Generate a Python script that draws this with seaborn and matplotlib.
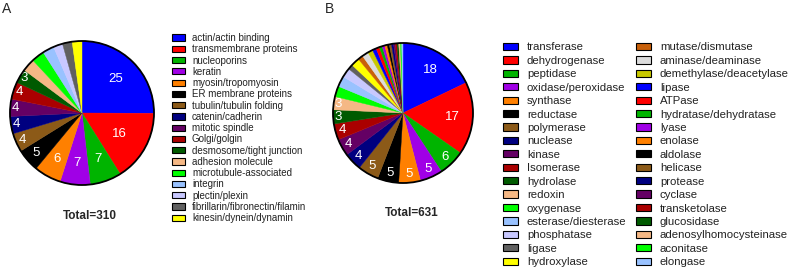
import numpy as np
import matplotlib
matplotlib.use('Agg')
import matplotlib.pyplot as plt
from matplotlib.patches import Patch, Circle
import seaborn as sns

# panel A: structural proteins, % of all hits
cats_a = ['actin/actin binding', 'transmembrane proteins', 'nucleoporins', 'keratin',
          'myosin/tropomyosin', 'ER membrane proteins', 'tubulin/tubulin folding',
          'catenin/cadherin', 'mitotic spindle', 'Golgi/golgin', 'desmosome/tight junction',
          'adhesion molecule', 'microtubule-associated', 'integrin', 'plectin/plexin',
          'fibrillarin/fibronectin/filamin', 'kinesin/dynein/dynamin']
pct_a = [25.2, 16.1, 7.1, 6.8, 6.1, 5.2, 4.2, 3.9, 3.9, 3.9, 3.2,
         2.9, 2.9, 2.6, 2.1, 2.2, 2.2]
colors_a = ['#0000ff', '#ff0000', '#00b400', '#a000e6', '#ff8000', '#000000', '#8c5a18',
            '#000080', '#640064', '#aa0000', '#005a00', '#f5b885', '#00ff00', '#99c2ff',
            '#c8c8ff', '#606060', '#ffff00']
total_a = 310

# panel B: enzymes, % of all hits
cats_b = ['transferase', 'dehydrogenase', 'peptidase', 'oxidase/peroxidase', 'synthase',
          'reductase', 'polymerase', 'nuclease', 'kinase', 'Isomerase', 'hydrolase',
          'redoxin', 'oxygenase', 'esterase/diesterase', 'phosphatase', 'ligase',
          'hydroxylase', 'mutase/dismutase', 'aminase/deaminase', 'demethylase/deacetylase',
          'lipase', 'ATPase', 'hydratase/dehydratase', 'lyase', 'enolase', 'aldolase',
          'helicase', 'protease', 'cyclase', 'transketolase', 'glucosidase',
          'adenosylhomocysteinase', 'aconitase', 'elongase']
pct_b = [18.2, 17.1, 6.2, 5.3, 5.1, 5.0, 4.9, 4.2, 4.0, 3.8, 3.3, 3.1,
         2.5, 2.5, 2.2, 1.2, 2.0, 1.2, 1.5, 1.2, 0.9, 0.8, 0.7, 0.6, 0.6, 0.5,
         0.5, 0.5, 0.4, 0.4, 0.4, 0.4, 0.3, 0.3]
colors_b = ['#0000ff', '#ff0000', '#00b400', '#a000e6', '#ff8000', '#000000', '#8c5a18',
            '#000080', '#640064', '#aa0000', '#005a00', '#f5b885', '#00ff00', '#99c2ff',
            '#c8c8ff', '#606060', '#ffff00', '#c8600a', '#dcdcdc', '#c8c800',
            '#0000ff', '#ff0000', '#00b400', '#a000e6', '#ff8000', '#000000', '#8c5a18',
            '#000080', '#640064', '#aa0000', '#005a00', '#f5b885', '#00ff00', '#99c2ff']
total_b = 631

sns.set_theme(style='white')
plt.rcParams['font.family'] = ['Liberation Sans', 'DejaVu Sans']

W, H = 789, 272
fig = plt.figure(figsize=(W / 100, H / 100), dpi=100)


def px_axes(cx, cy, r):
    r = r * 1.03
    return fig.add_axes([(cx - r) / W, 1 - (cy + r) / H, 2 * r / W, 2 * r / H])


def draw_pie(ax, pct, colors, rtab):
    wedges, _ = ax.pie(pct, colors=colors, startangle=90, counterclock=False, radius=1)
    for w in wedges:
        w.set_edgecolor(w.get_facecolor())
        w.set_linewidth(0.3)
    ax.add_patch(Circle((0, 0), 1, fill=False, ec='black', lw=1.3, zorder=5))
    for w, p in zip(wedges, pct):
        if p < 3:
            continue
        ang = np.deg2rad((w.theta1 + w.theta2) / 2)
        d = np.interp(p, *rtab)
        ax.text(d * np.cos(ang), d * np.sin(ang), f'{p:.0f}', color='white',
                ha='center', va='center', fontsize=9.5)
    ax.set_xlim(-1.03, 1.03)
    ax.set_ylim(-1.03, 1.03)
    ax.axis('off')


def add_legend(cats, colors, x, y, fs, hl, pad, sp):
    handles = [Patch(facecolor=c, edgecolor='black', linewidth=0.8) for c in colors]
    fig.legend(handles, cats, loc='upper left', bbox_to_anchor=(x / W, 1 - y / H),
               frameon=False, fontsize=fs, handlelength=hl, handleheight=0.6,
               handletextpad=pad, labelspacing=sp, borderpad=0, borderaxespad=0,
               labelcolor='#222222')


ax_a = px_axes(82, 113, 72)
draw_pie(ax_a, pct_a, colors_a,
         ([3, 4, 5, 6, 7, 16, 25], [0.94, 0.92, 0.87, 0.74, 0.68, 0.6, 0.66]))
ax_b = px_axes(403, 113, 70)
draw_pie(ax_b, pct_b, colors_b,
         ([3, 4, 5, 6, 17, 18], [0.94, 0.89, 0.88, 0.87, 0.71, 0.73]))

add_legend(cats_a, colors_a, 172, 33, 7, 1.35, 0.7, 0.13)
add_legend(cats_b[:17], colors_b[:17], 503, 42.5, 8.2, 1.3, 0.8, 0.3)
add_legend(cats_b[17:], colors_b[17:], 636, 42.5, 8.2, 1.3, 0.8, 0.3)

fig.text(90 / W, 1 - 216 / H, f'Total={total_a}', ha='center', va='center',
         fontsize=8.5, fontweight='bold')
fig.text(412 / W, 1 - 213 / H, f'Total={total_b}', ha='center', va='center',
         fontsize=8.5, fontweight='bold')
fig.text(2 / W, 1 - 2 / H, 'A', fontsize=10, va='top', ha='left')
fig.text(325 / W, 1 - 2 / H, 'B', fontsize=10, va='top', ha='left')

fig.savefig('out.png', dpi=100)
